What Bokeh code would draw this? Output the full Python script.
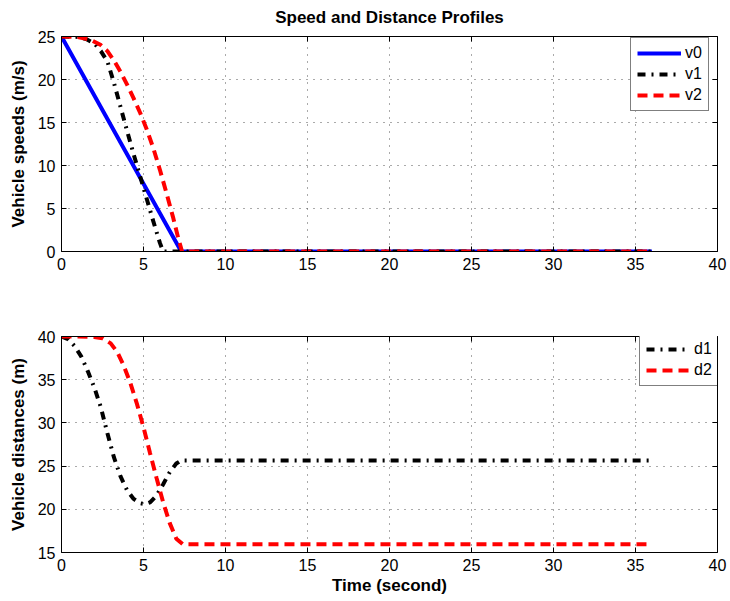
from bokeh.plotting import figure
from bokeh.layouts import column
from bokeh.models import Range1d, LinearAxis, Legend, LegendItem, FixedTicker
from bokeh.embed import file_html
from bokeh.resources import INLINE

FONT = "Liberation Sans"

# Speed profiles (m/s) against time (s)
t_v0 = [0, 7.3, 36]
v0 = [25, 0, 0]

t_v1 = [0, 1.0, 1.5, 2.0, 2.4, 2.8, 3.2, 3.6, 4.0, 4.4, 4.8, 5.2, 5.6, 6.0, 6.2, 36]
v1 = [25, 24.95, 24.7, 24.2, 23.3, 22.1, 19.6, 16.8, 14.0, 11.3, 8.7, 6.1, 3.5, 1.0, 0, 0]

t_v2 = [0, 1.0, 1.8, 2.4, 2.8, 3.2, 3.6, 4.0, 4.4, 4.8, 5.2, 5.6, 6.0, 6.4, 6.8, 7.1, 7.35, 36]
v2 = [25, 24.95, 24.6, 24.0, 23.3, 22.2, 20.9, 19.4, 17.8, 16.1, 14.2, 12.0, 9.5, 6.8, 4.0, 1.7, 0, 0]

# Inter-vehicle distances (m) against time (s)
t_d1 = [0, 0.4, 0.8, 1.2, 1.6, 2.0, 2.4, 2.8, 3.2, 3.6, 4.0, 4.4, 4.8, 5.1, 5.4, 5.8,
        6.2, 6.6, 7.0, 7.3, 36]
d1 = [40, 39.7, 38.9, 37.7, 36.0, 34.1, 31.8, 28.8, 26.0, 23.8, 22.2, 21.2, 20.7, 20.6,
      20.8, 21.6, 22.9, 24.3, 25.3, 25.65, 25.65]

t_d2 = [0, 1.0, 2.0, 2.5, 3.0, 3.4, 3.8, 4.2, 4.6, 5.0, 5.4, 5.8, 6.2, 6.6, 7.0, 7.4, 36]
d2 = [40, 40, 39.95, 39.8, 39.2, 38.2, 36.6, 34.6, 32.2, 29.5, 26.5, 23.6, 20.8, 18.4,
      16.6, 15.95, 15.95]

x_ticks = [0, 5, 10, 15, 20, 25, 30, 35, 40]
speed_ticks = [0, 5, 10, 15, 20, 25]
dist_ticks = [15, 20, 25, 30, 35, 40]

DASH = "10 6"
DASHDOT = "8 6 2 6"
LW = 4


def style_axis(ax, ticks, labels=True):
    ax.ticker = FixedTicker(ticks=ticks)
    ax.major_tick_in = 5
    ax.major_tick_out = 0
    ax.minor_tick_in = 0
    ax.minor_tick_out = 0
    ax.axis_line_color = "black"
    ax.axis_line_width = 1
    ax.major_tick_line_color = "black"
    ax.major_label_text_font = FONT
    ax.major_label_text_font_size = "16px"
    ax.major_label_text_color = "black"
    ax.major_label_standoff = 6
    ax.axis_label_text_font = FONT
    ax.axis_label_text_font_size = "17px"
    ax.axis_label_text_font_style = "bold"
    ax.axis_label_text_color = "black"
    if not labels:
        ax.major_label_text_font_size = "0px"
        ax.major_label_standoff = 0


def make_fig(height, top, bottom, yr, yticks, ylabel):
    p = figure(width=730, height=height, x_range=Range1d(0, 40), y_range=Range1d(*yr),
               output_backend="svg", toolbar_location=None,
               min_border_left=61, min_border_right=13,
               min_border_top=top, min_border_bottom=bottom)
    p.outline_line_color = None
    p.background_fill_color = "white"
    p.border_fill_color = "white"
    bottom_axis = p.xaxis[0]
    left_axis = p.yaxis[0]
    style_axis(bottom_axis, x_ticks)
    style_axis(left_axis, yticks)
    left_axis.axis_label = ylabel
    left_axis.axis_label_standoff = 7
    right = LinearAxis()
    style_axis(right, yticks, labels=False)
    p.add_layout(right, "right")
    above = LinearAxis()
    style_axis(above, x_ticks, labels=False)
    p.add_layout(above, "above")
    for g in (p.xgrid[0], p.ygrid[0]):
        g.grid_line_color = "#555555"
        g.grid_line_dash = "1 6"
        g.grid_line_width = 1
    p.xgrid[0].ticker = FixedTicker(ticks=x_ticks)
    p.ygrid[0].ticker = FixedTicker(ticks=yticks)
    return p, bottom_axis


def make_legend(items, loc):
    return Legend(items=items, location=loc, padding=6, spacing=3, margin=0,
                  glyph_width=44, glyph_height=18, label_height=18, label_width=10,
                  label_standoff=4, border_line_color="black", border_line_width=1,
                  background_fill_color="white", background_fill_alpha=1,
                  label_text_font=FONT, label_text_font_size="16px",
                  label_text_color="black")


# Speeds
p1, _ = make_fig(293, 34, 42, (0, 25), speed_ticks, "Vehicle speeds (m/s)")
p1.title.text = "Speed and Distance Profiles"
p1.title.align = "center"
p1.title.vertical_align = "top"
p1.title.standoff = 15
p1.title.text_font = FONT
p1.title.text_font_size = "17px"
p1.title.text_font_style = "bold"
p1.title.text_color = "black"

r_v0 = p1.line(t_v0, v0, line_color="#0000ff", line_width=LW)
r_v1 = p1.line(t_v1, v1, line_color="black", line_width=LW, line_dash=DASHDOT)
r_v2 = p1.line(t_v2, v2, line_color="#ff0000", line_width=LW, line_dash=DASH)
p1.add_layout(make_legend([LegendItem(label="v0", renderers=[r_v0]),
                           LegendItem(label="v1", renderers=[r_v1]),
                           LegendItem(label="v2", renderers=[r_v2])], (569, 140)))

# Distances
p2, time_axis = make_fig(308, 43, 49, (15, 40), dist_ticks, "Vehicle distances (m)")
time_axis.axis_label = "Time (second)"
time_axis.axis_label_standoff = 2

r_d1 = p2.line(t_d1, d1, line_color="black", line_width=LW, line_dash=DASHDOT)
r_d2 = p2.line(t_d2, d2, line_color="#ff0000", line_width=LW, line_dash=DASH)
p2.add_layout(make_legend([LegendItem(label="d1", renderers=[r_d1]),
                           LegendItem(label="d2", renderers=[r_d2])], (578, 166)))

layout = column(p1, p2, spacing=0)
open("out.html", "w").write(file_html(layout, INLINE))
